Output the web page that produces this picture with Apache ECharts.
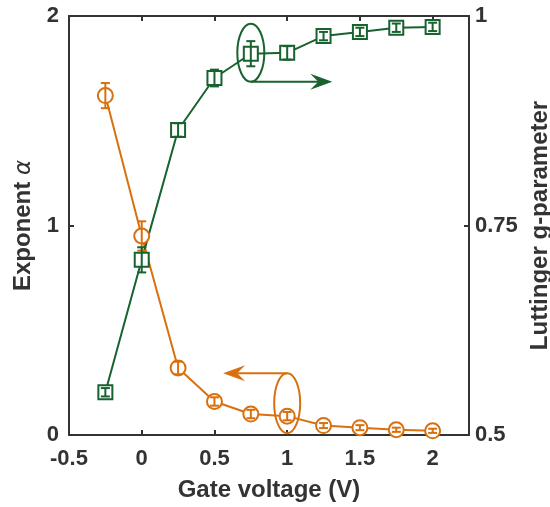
<!DOCTYPE html>
<html lang="en">
<head>
    <meta charset="UTF-8">
    <title>Exponent and Luttinger parameter</title>
    <script src="https://cdn.jsdelivr.net/npm/echarts@6/dist/echarts.min.js"></script>
    <style>
        body { margin: 0; background: #fff; }
    </style>
</head>
<body>
    <div id="ec" style="width:550px;height:507px"></div>
</body>
<script>
    // values
    var gateV = [-0.25, 0, 0.25, 0.5, 0.75, 1, 1.25, 1.5, 1.75, 2]
    var alpha = [1.62, 0.95, 0.32, 0.16, 0.10, 0.09, 0.045, 0.035, 0.025, 0.02]
    var alphaErr = [0.06, 0.07, 0.03, 0.02, 0.02, 0.02, 0.012, 0.012, 0.01, 0.01]
    var gParam = [0.551, 0.709, 0.864, 0.926, 0.955, 0.956, 0.976, 0.981, 0.986, 0.987]
    var gErr = [0.005, 0.015, 0.008, 0.01, 0.015, 0.008, 0.005, 0.005, 0.005, 0.005]

    var orange = '#d9700f'
    var green = '#17622f'
    var axisColor = '#333'

    function pairs(ys) {
        return gateV.map(function (x, i) { return [x, ys[i]] })
    }
    function errData(ys, es) {
        return gateV.map(function (x, i) { return [x, ys[i] - es[i], ys[i] + es[i]] })
    }
    function errBar(color) {
        return function (params, api) {
            var lo = api.coord([api.value(0), api.value(1)])
            var hi = api.coord([api.value(0), api.value(2)])
            var w = 4.5
            var st = { stroke: color, lineWidth: 2 }
            return {
                type: 'group',
                children: [
                    { type: 'line', shape: { x1: lo[0], y1: lo[1], x2: hi[0], y2: hi[1] }, style: st },
                    { type: 'line', shape: { x1: lo[0] - w, y1: lo[1], x2: lo[0] + w, y2: lo[1] }, style: st },
                    { type: 'line', shape: { x1: hi[0] - w, y1: hi[1], x2: hi[0] + w, y2: hi[1] }, style: st }
                ]
            }
        }
    }

    var labelFont = { fontFamily: 'Liberation Sans', fontWeight: 'bold', fontSize: 22, color: axisColor }
    var nameFont = { fontFamily: 'Liberation Sans', fontWeight: 'bold', fontSize: 24, color: axisColor }
    var lineStyle = { color: axisColor, width: 2 }

    var mychart = echarts.init(document.getElementById('ec'))
    var options = {
        animation: false,
        grid: { left: 69, right: 81, top: 16, bottom: 72, outerBoundsMode: 'none', containLabel: false },
        xAxis: [{
            type: 'value', min: -0.5, max: 2.25, interval: 0.5,
            name: 'Gate voltage (V)', nameLocation: 'middle', nameGap: 43,
            nameTextStyle: nameFont,
            axisLine: { onZero: false, lineStyle: lineStyle },
            axisTick: { inside: true, length: 5, lineStyle: lineStyle },
            axisLabel: Object.assign({
                margin: 13,
                formatter: function (v) { return v > 2.1 ? '' : String(v) }
            }, labelFont),
            splitLine: { show: false }
        }, {
            type: 'value', min: -0.5, max: 2.25, interval: 0.5, position: 'top',
            axisLine: { onZero: false, lineStyle: lineStyle },
            axisTick: { inside: true, length: 5, lineStyle: lineStyle },
            axisLabel: { show: false },
            splitLine: { show: false }
        }],
        yAxis: [{
            type: 'value', min: 0, max: 2, interval: 1,
            name: 'Exponent {a|α}', nameLocation: 'middle', nameGap: 33, nameRotate: 90,
            nameTextStyle: Object.assign({
                rich: { a: { fontFamily: 'DejaVu Sans', fontStyle: 'italic', fontWeight: 'normal', fontSize: 23, color: axisColor } }
            }, nameFont),
            axisLine: { show: true, onZero: false, lineStyle: lineStyle },
            axisTick: { show: true, inside: true, length: 5, lineStyle: lineStyle },
            axisLabel: Object.assign({ margin: 10 }, labelFont),
            splitLine: { show: false }
        }, {
            type: 'value', min: 0.5, max: 1, interval: 0.25, position: 'right',
            name: 'Luttinger g-parameter', nameLocation: 'middle', nameGap: 57, nameRotate: 90,
            nameTextStyle: nameFont,
            axisLine: { show: true, onZero: false, lineStyle: lineStyle },
            axisTick: { show: true, inside: true, length: 5, lineStyle: lineStyle },
            axisLabel: Object.assign({ margin: 6 }, labelFont),
            splitLine: { show: false }
        }],
        series: [{
            type: 'line', yAxisIndex: 0, data: pairs(alpha),
            symbol: 'emptyCircle', symbolSize: 15,
            lineStyle: { color: orange, width: 2 },
            itemStyle: { color: orange, borderWidth: 2 },
            z: 2
        }, {
            type: 'custom', yAxisIndex: 0, data: errData(alpha, alphaErr),
            renderItem: errBar(orange), z: 5, silent: true
        }, {
            type: 'line', yAxisIndex: 1, data: pairs(gParam),
            symbol: 'emptyRect', symbolSize: 14,
            lineStyle: { color: green, width: 2 },
            itemStyle: { color: green, borderWidth: 2 },
            z: 2
        }, {
            type: 'custom', yAxisIndex: 1, data: errData(gParam, gErr),
            renderItem: errBar(green), z: 5, silent: true
        }]
    }
    mychart.setOption(options)

    // ellipse + arrow annotations, anchored in data space
    function arrowHead(tip, dir, color) {
        var L = 22, H = 8, N = 14
        return {
            type: 'polygon', z: 10,
            shape: { points: [
                [tip[0], tip[1]],
                [tip[0] - dir * L, tip[1] - H],
                [tip[0] - dir * N, tip[1]],
                [tip[0] - dir * L, tip[1] + H]
            ] },
            style: { fill: color }
        }
    }
    // side: 1 = arrow leaves from bottom of ellipse, -1 = from top
    function callout(gridPt, axisIdx, rx, ry, dy, side, tipX, color) {
        var c = mychart.convertToPixel({ xAxisIndex: 0, yAxisIndex: axisIdx }, gridPt)
        var cy = c[1] + dy
        var ay = cy + side * ry
        var dir = tipX > c[0] ? 1 : -1
        return [{
            type: 'ellipse', z: 10,
            shape: { cx: c[0], cy: cy, rx: rx, ry: ry },
            style: { fill: 'none', stroke: color, lineWidth: 2 }
        }, {
            type: 'line', z: 10,
            shape: { x1: c[0], y1: ay, x2: tipX - dir * 14, y2: ay },
            style: { stroke: color, lineWidth: 2 }
        }, arrowHead([tipX, ay], dir, color)]
    }
    var gTip = mychart.convertToPixel({ xAxisIndex: 0 }, 1.31)
    var aTip = mychart.convertToPixel({ xAxisIndex: 0 }, 0.56)
    mychart.setOption({
        graphic: callout([0.75, 0.955], 1, 13.5, 29, -1, 1, gTip, green)
            .concat(callout([1, 0.09], 0, 13, 30, -13, -1, aTip, orange))
    })
</script>
</html>
